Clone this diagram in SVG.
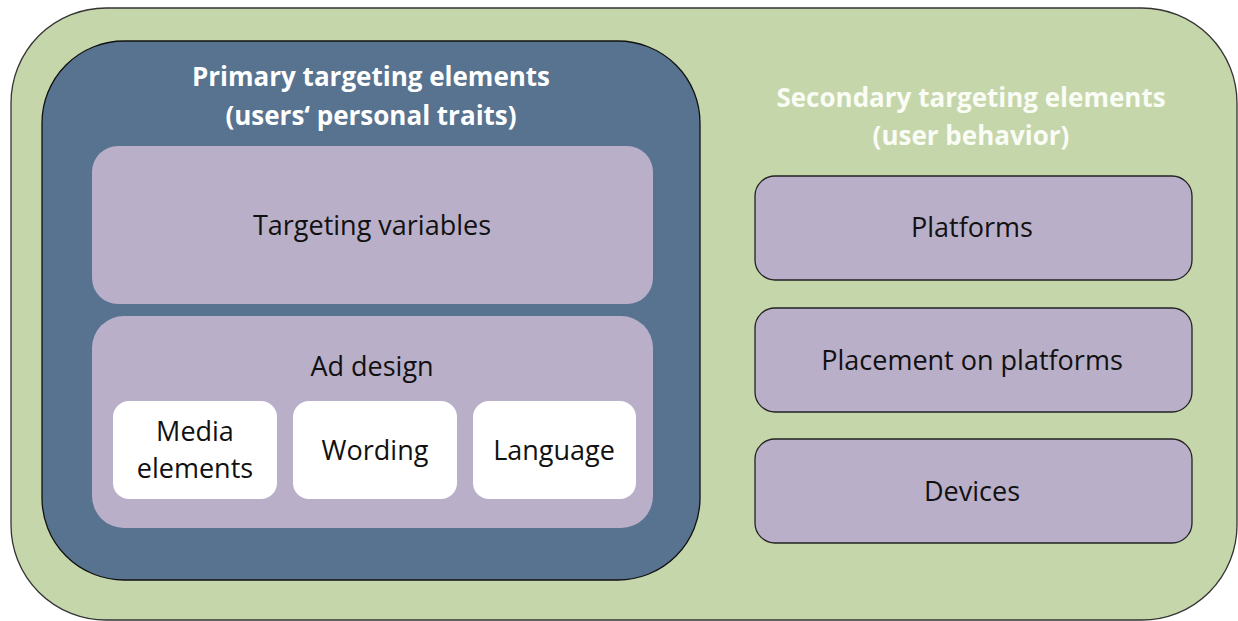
<svg xmlns="http://www.w3.org/2000/svg" width="1238" height="621" viewBox="0 0 1238 621">
<style>
.t{font-family:"Open Sans",Lato,sans-serif;text-anchor:middle}
.h{font-weight:bold;font-size:26px;fill:#ffffff}
.h2{font-weight:bold;font-size:26px;fill:#fafcf6}
.b{font-size:27px;fill:#111111}
.p{fill:#b9afc9}
.ps{fill:#b9afc9;stroke:#222;stroke-width:1.3}
.w{fill:#ffffff}
</style>
<g id="outer">
<rect x="11" y="8" width="1226" height="612" rx="95" ry="95" fill="#c6d6ab" stroke="#333" stroke-width="1.3"/>
</g>
<g id="primary">
<rect x="42" y="41" width="658" height="539" rx="82" ry="82" fill="#58738f" stroke="#111" stroke-width="1.3"/>
<text class="t h" x="371" y="86">Primary targeting elements</text>
<text class="t h" x="371" y="125">(users‘ personal traits)</text>
</g>
<g id="targeting-variables">
<rect class="p" x="92" y="146" width="561" height="158" rx="26"/>
<text class="t b" x="372" y="235">Targeting variables</text>
</g>
<g id="ad-design">
<rect class="p" x="92" y="316" width="561" height="212" rx="32"/>
<text class="t b" x="372" y="376">Ad design</text>
</g>
<g id="media-elements">
<rect class="w" x="113" y="401" width="164" height="98" rx="16"/>
<text class="t b" x="195" y="441">Media</text>
<text class="t b" x="195" y="478">elements</text>
</g>
<g id="wording">
<rect class="w" x="293" y="401" width="164" height="98" rx="16"/>
<text class="t b" x="375" y="460">Wording</text>
</g>
<g id="language">
<rect class="w" x="473" y="401" width="163" height="98" rx="16"/>
<text class="t b" x="554" y="460">Language</text>
</g>
<g id="secondary">
<text class="t h2" x="971" y="107">Secondary targeting elements</text>
<text class="t h2" x="971" y="145">(user behavior)</text>
</g>
<g id="platforms">
<rect class="ps" x="755" y="176" width="437" height="104" rx="20"/>
<text class="t b" x="972" y="237">Platforms</text>
</g>
<g id="placement">
<rect class="ps" x="755" y="308" width="437" height="104" rx="20"/>
<text class="t b" x="972" y="370">Placement on platforms</text>
</g>
<g id="devices">
<rect class="ps" x="755" y="439" width="437" height="104" rx="20"/>
<text class="t b" x="972" y="501">Devices</text>
</g>
<g id="connectors"/>
</svg>
